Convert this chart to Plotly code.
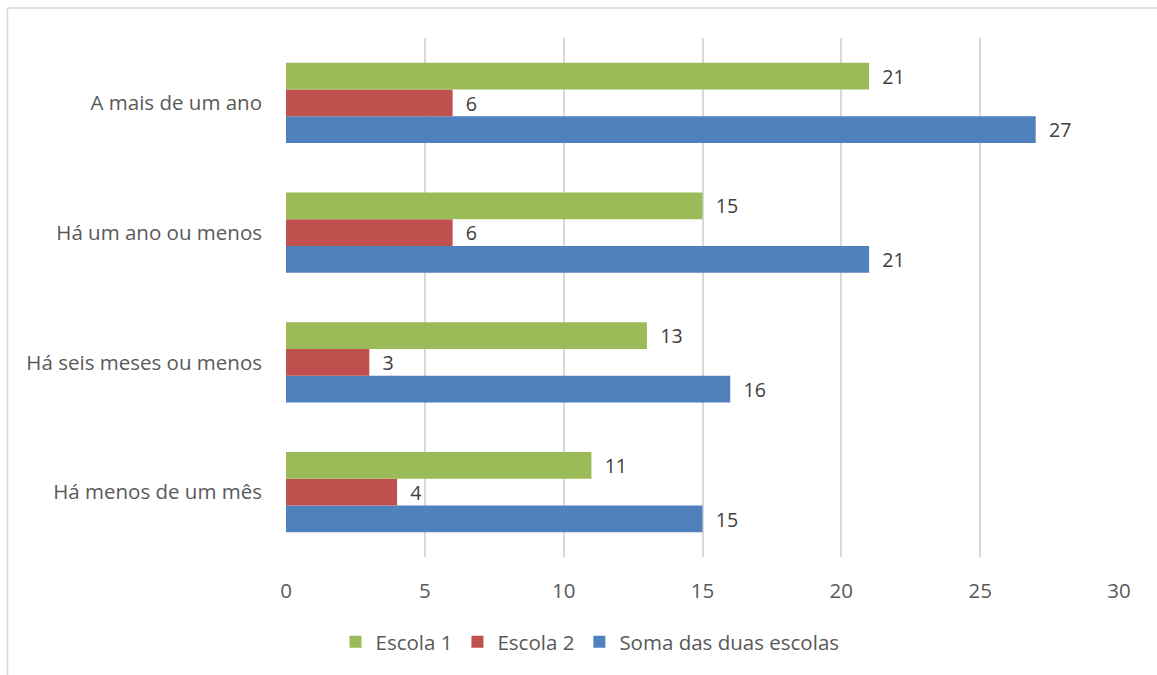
import plotly.graph_objects as go

categories = ["Há menos de um mês", "Há seis meses ou menos", "Há um ano ou menos", "A mais de um ano"]
escola1 = [11, 13, 15, 21]
escola2 = [4, 3, 6, 6]
soma = [15, 16, 21, 27]
x_ticks = [0, 5, 10, 15, 20, 25, 30]

series = [
    ("Soma das duas escolas", soma, "#4f81bd"),
    ("Escola 2", escola2, "#c0504d"),
    ("Escola 1", escola1, "#9bbb59"),
]

FONT = "Open Sans"
FS = 20.5

fig = go.Figure()
for name, vals, color in series:
    fig.add_trace(go.Bar(
        y=categories, x=vals, name=name, orientation="h",
        marker=dict(color=color, line=dict(width=0)),
        text=["\u00a0\u00a0" + str(v) for v in vals],
        textposition="outside", cliponaxis=False,
        textfont=dict(size=FS, color="#404040", family=FONT),
    ))

W, H = 1157, 675
L, R, T, B = 286, 38, 38, 118
pw, ph = W - L - R, H - T - B

def px(x):
    return (x - L) / pw

def py(y):
    return (H - B - y) / ph

fig.update_layout(
    width=W, height=H,
    margin=dict(l=L, r=R, t=T, b=B),
    paper_bgcolor="white", plot_bgcolor="white",
    barmode="group", bargap=0.38, bargroupgap=0,
    font=dict(family=FONT, size=FS, color="#595959"),
    xaxis=dict(range=[0, 30], tickvals=x_ticks, showgrid=True, gridcolor="#d9d9d9",
               gridwidth=1.5, zeroline=False, showline=False, ticks="",
               ticklabelstandoff=19,
               tickfont=dict(size=FS, color="#595959")),
    yaxis=dict(categoryorder="array", categoryarray=categories, showgrid=False,
               zeroline=False, showline=False, ticks="", ticklabelstandoff=23,
               tickfont=dict(size=FS, color="#595959")),
    legend=dict(orientation="h", traceorder="reversed", x=px(590), xanchor="center",
                y=py(642), yanchor="middle", font=dict(size=FS, color="#595959"),
                itemwidth=30),
    showlegend=True,
    shapes=[
        dict(type="line", xref="paper", yref="paper", x0=px(7.5), x1=px(1200), y0=py(8), y1=py(8),
             line=dict(color="#d9d9d9", width=1.5)),
        dict(type="line", xref="paper", yref="paper", x0=px(7.5), x1=px(7.5), y0=py(8), y1=py(700),
             line=dict(color="#d9d9d9", width=1.5)),
    ],
)

fig.write_html("out.html")
